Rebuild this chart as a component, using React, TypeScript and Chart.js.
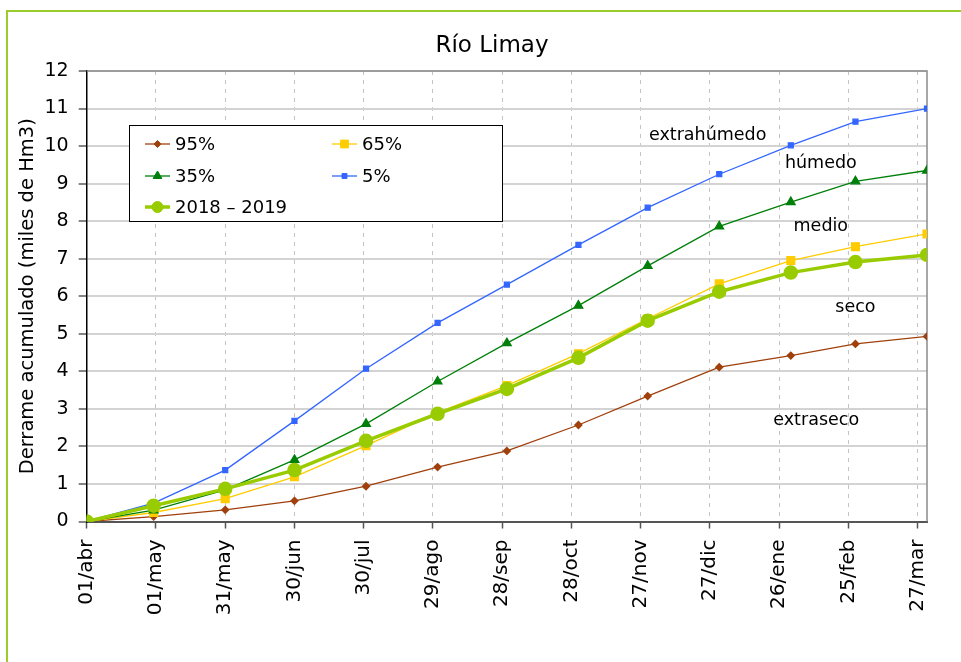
import React, { useEffect, useRef } from "react";
import { Chart, registerables } from "chart.js";
import { drawPoint } from "chart.js/helpers";

Chart.register(...registerables);

const chartTitle = "Río Limay";
const yTitle = "Derrame acumulado (miles de Hm3)";

const tickLabels = ["01/abr", "01/may", "31/may", "30/jun", "30/jul", "29/ago", "28/sep", "28/oct", "27/nov", "27/dic", "26/ene", "25/feb", "27/mar"];
const tickDays = [0, 30, 60, 90, 120, 150, 180, 210, 240, 270, 300, 330, 360];
const lastDay = 364;

const pointDays = [0, 29, 60, 90, 121, 152, 182, 213, 243, 274, 305, 333, 364];
const p95 = [0, 0.13, 0.31, 0.55, 0.94, 1.45, 1.88, 2.57, 3.34, 4.11, 4.42, 4.73, 4.93];
const p65 = [0, 0.24, 0.61, 1.19, 2.02, 2.9, 3.62, 4.47, 5.4, 6.33, 6.95, 7.32, 7.66];
const p35 = [0, 0.3, 0.84, 1.64, 2.6, 3.73, 4.75, 5.75, 6.81, 7.86, 8.51, 9.06, 9.35];
const p5 = [0, 0.49, 1.37, 2.68, 4.07, 5.29, 6.31, 7.37, 8.36, 9.25, 10.02, 10.65, 11.0];
const y2018 = [0, 0.42, 0.87, 1.37, 2.15, 2.87, 3.53, 4.36, 5.35, 6.12, 6.63, 6.91, 7.1];

const zoneLabels = ["extrahúmedo", "húmedo", "medio", "seco", "extraseco"];
const zoneDays = [269, 318, 318, 333, 316];
const zoneValues = [10.15, 9.41, 7.75, 5.57, 2.57];

const FONT = "'DejaVu Sans', sans-serif";

const toPts = (arr: number[]) => pointDays.map((d, i) => ({ x: d, y: arr[i] }));

const overlayPlugin = {
  id: "overlay",
  beforeDatasetsDraw(chart: any) {
    const { ctx, chartArea: a } = chart;
    ctx.save();
    ctx.strokeStyle = "#8a8a8a";
    ctx.lineWidth = 1.5;
    ctx.beginPath();
    ctx.moveTo(a.left, a.top);
    ctx.lineTo(a.right, a.top);
    ctx.lineTo(a.right, a.bottom);
    ctx.stroke();
    ctx.restore();
  },
  afterDraw(chart: any) {
    const { ctx } = chart;
    const xs = chart.scales.x;
    const ys = chart.scales.y;
    ctx.save();
    // title
    ctx.fillStyle = "#000";
    ctx.font = `23px ${FONT}`;
    ctx.textAlign = "center";
    ctx.textBaseline = "alphabetic";
    ctx.fillText(chartTitle, 492, 52);
    // zone annotations
    ctx.font = `17.5px ${FONT}`;
    zoneLabels.forEach((t, i) => {
      ctx.fillText(t, xs.getPixelForValue(zoneDays[i]), ys.getPixelForValue(zoneValues[i]));
    });
    // legend
    const bx = 129, by = 125, bw = 373, bh = 96;
    ctx.fillStyle = "#fff";
    ctx.fillRect(bx, by, bw, bh);
    ctx.strokeStyle = "#000";
    ctx.lineWidth = 1;
    ctx.strokeRect(bx + 0.5, by + 0.5, bw, bh);
    const order = [1, 2, 3, 4, 0];
    const colX = [145, 332];
    const rowY = [144, 176, 207];
    ctx.font = `18px ${FONT}`;
    ctx.textAlign = "left";
    ctx.textBaseline = "middle";
    order.forEach((di, k) => {
      const ds = chart.data.datasets[di];
      const x = colX[k % 2];
      const y = rowY[Math.floor(k / 2)];
      ctx.strokeStyle = ds.borderColor;
      ctx.lineWidth = ds.borderWidth;
      ctx.beginPath();
      ctx.moveTo(x, y);
      ctx.lineTo(x + 25, y);
      ctx.stroke();
      ctx.fillStyle = ds.pointBackgroundColor;
      ctx.strokeStyle = ds.pointBorderColor;
      ctx.lineWidth = 1;
      drawPoint(ctx, { pointStyle: ds.pointStyle, radius: ds.pointRadius, borderWidth: 1, rotation: 0 } as any, x + 12.5, y);
      ctx.fillStyle = "#000";
      ctx.fillText(ds.label, x + 30, y + 1);
    });
    ctx.restore();
  },
};

export default function App() {
  const ref = useRef<HTMLCanvasElement>(null);
  useEffect(() => {
    const chart = new Chart(ref.current!, {
      type: "line",
      data: {
        datasets: [
          {
            label: "2018 – 2019",
            data: toPts(y2018),
            borderColor: "#99cc00",
            backgroundColor: "#99cc00",
            pointBackgroundColor: "#99cc00",
            pointBorderColor: "#99cc00",
            borderWidth: 3.5,
            pointStyle: "circle",
            pointRadius: 5.5,
            order: 0,
          },
          {
            label: "95%",
            data: toPts(p95),
            borderColor: "#a0400c",
            backgroundColor: "#a0400c",
            pointBackgroundColor: "#a0400c",
            pointBorderColor: "#a0400c",
            borderWidth: 1.3,
            pointStyle: "rectRot",
            pointRadius: 3.5,
            order: 4,
          },
          {
            label: "65%",
            data: toPts(p65),
            borderColor: "#ffcc00",
            backgroundColor: "#ffcc00",
            pointBackgroundColor: "#ffcc00",
            pointBorderColor: "#ffcc00",
            borderWidth: 1.3,
            pointStyle: "rect",
            pointRadius: 5.5,
            order: 2,
          },
          {
            label: "35%",
            data: toPts(p35),
            borderColor: "#00800a",
            backgroundColor: "#00800a",
            pointBackgroundColor: "#00800a",
            pointBorderColor: "#00800a",
            borderWidth: 1.3,
            pointStyle: "triangle",
            pointRadius: 5,
            order: 1,
          },
          {
            label: "5%",
            data: toPts(p5),
            borderColor: "#3366ff",
            backgroundColor: "#3366ff",
            pointBackgroundColor: "#3366ff",
            pointBorderColor: "#3366ff",
            borderWidth: 1.3,
            pointStyle: "rect",
            pointRadius: 3.5,
            order: 3,
          },
        ],
      },
      options: {
        responsive: false,
        animation: false,
        devicePixelRatio: 1,
        layout: { padding: { left: 0, right: 34, top: 71, bottom: 0 } },
        plugins: { legend: { display: false }, tooltip: { enabled: false }, title: { display: false } },
        elements: { line: { tension: 0 } },
        scales: {
          x: {
            type: "linear",
            min: 0,
            max: lastDay,
            afterBuildTicks: (scale: any) => {
              scale.ticks = tickDays.map((v) => ({ value: v }));
            },
            afterFit: (scale: any) => {
              scale.height = 140.5;
            },
            ticks: {
              autoSkip: false,
              minRotation: 90,
              maxRotation: 90,
              padding: 11,
              color: "#000",
              font: { family: FONT, size: 20 },
              callback: (v: any) => {
                const i = tickDays.indexOf(Number(v));
                return i >= 0 ? tickLabels[i] : "";
              },
            },
            grid: {
              color: "#c4c4c4",
              lineWidth: 1,
              tickLength: 7,
              tickColor: "#555",
              tickWidth: 1.5,
              tickBorderDash: [],
            },
            border: { color: "#555", width: 2, dash: [4, 5] },
          },
          y: {
            min: 0,
            max: 12,
            afterFit: (scale: any) => {
              scale.width = 86.7;
            },
            ticks: {
              stepSize: 1,
              padding: 10,
              color: "#000",
              font: { family: FONT, size: 19 },
            },
            grid: {
              color: "#d3d3d3",
              lineWidth: 2,
              tickLength: 8,
              tickColor: "#333",
              tickWidth: 1.2,
            },
            border: { color: "#000", width: 1.5 },
            title: {
              display: true,
              text: yTitle,
              color: "#000",
              font: { family: FONT, size: 19.5 },
              padding: { top: 16, bottom: 0 },
            },
          },
        },
      },
      plugins: [overlayPlugin],
    } as any);
    return () => chart.destroy();
  }, []);
  return (
    <div style={{ position: "fixed", left: 0, top: 0, width: 961, height: 662, background: "#fff", overflow: "hidden" }}>
      <canvas ref={ref} width={961} height={662} style={{ position: "absolute", left: 0, top: 0, width: 961, height: 662 }} />
      <div
        style={{
          position: "absolute",
          left: 6,
          top: 10,
          width: 1000,
          height: 700,
          borderLeft: "2px solid #9ccc2c",
          borderTop: "2px solid #9ccc2c",
          pointerEvents: "none",
        }}
      />
    </div>
  );
}
